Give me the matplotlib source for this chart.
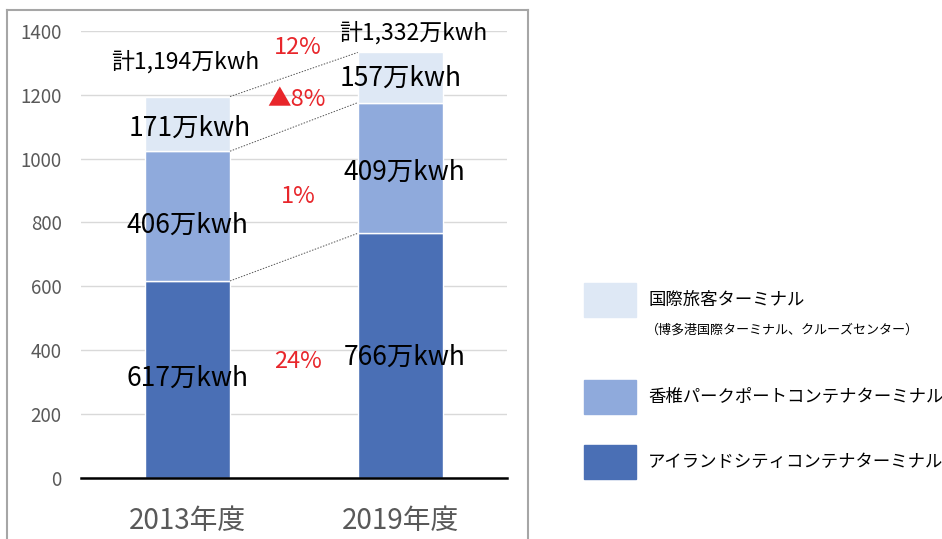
import matplotlib
matplotlib.use('Agg')
import matplotlib.pyplot as plt
from matplotlib.patches import Rectangle
from matplotlib.lines import Line2D

plt.rcParams['font.family'] = ['Noto Sans CJK JP', 'DejaVu Sans']

years = ['2013年度', '2019年度']
island = [617, 766]
kashii = [406, 409]
intl = [171, 157]
totals = [1194, 1332]
changes = ['24%', '1%', '▲8%', '12%']
legend_names = ['国際旅客ターミナル', '香椎パークポートコンテナターミナル', 'アイランドシティコンテナターミナル']
legend_note = '（博多港国際ターミナル、クルーズセンター）'

c_dark = '#4A6FB5'
c_mid = '#8FAADC'
c_light = '#DEE8F5'

fig = plt.figure(figsize=(9.42, 5.39), dpi=100)
ax = fig.add_axes([0.086, 0.113, 0.452, 0.830])

x = [0, 1]
w = 0.4
ax.bar(x, island, w, color=c_dark, edgecolor='white', linewidth=1, zorder=3)
ax.bar(x, kashii, w, bottom=island, color=c_mid, edgecolor='white', linewidth=1, zorder=3)
bot2 = [a + b for a, b in zip(island, kashii)]
ax.bar(x, intl, w, bottom=bot2, color=c_light, edgecolor='white', linewidth=1, zorder=3)

# dotted connectors between segment tops
for t in [island, bot2, totals]:
    ax.plot([w / 2, 1 - w / 2], [t[0], t[1]], color='#555555', lw=0.7,
            ls=(0, (1.5, 1.5)), zorder=4)

# segment labels
fs = 19
ax.text(0.0, 313, f'{island[0]}万kwh', ha='center', va='center', fontsize=fs, zorder=5)
ax.text(1.02, 379, f'{island[1]}万kwh', ha='center', va='center', fontsize=fs, zorder=5)
ax.text(0.0, 792, f'{kashii[0]}万kwh', ha='center', va='center', fontsize=fs, zorder=5)
ax.text(1.02, 958, f'{kashii[1]}万kwh', ha='center', va='center', fontsize=fs, zorder=5)
ax.text(0.01, 1096, f'{intl[0]}万kwh', ha='center', va='center', fontsize=fs, zorder=5)
ax.text(1.0, 1250, f'{intl[1]}万kwh', ha='center', va='center', fontsize=fs, zorder=5)
ax.text(-0.01, 1303, f'計{totals[0]:,}万kwh', ha='center', va='center', fontsize=16.5, zorder=5)
ax.text(1.06, 1394, f'計{totals[1]:,}万kwh', ha='center', va='center', fontsize=16.5, zorder=5)

# change rates
red = '#E8262B'
ax.text(0.52, 366, changes[0], ha='center', va='center', fontsize=17, color=red)
ax.text(0.52, 880, changes[1], ha='center', va='center', fontsize=17, color=red)
ax.text(0.51, 1184, changes[2], ha='center', va='center', fontsize=17, color=red)
ax.text(0.52, 1347, changes[3], ha='center', va='center', fontsize=17, color=red)

ax.set_xlim(-0.5, 1.5)
ax.set_ylim(0, 1400)
ax.set_yticks(range(0, 1401, 200))
ax.set_xticks(x)
ax.set_xticklabels(years, fontsize=20, color='#595959')
ax.tick_params(axis='y', labelsize=13.5, labelcolor='#595959', length=0, pad=14)
ax.tick_params(axis='x', length=0, pad=20)
ax.grid(axis='y', color='#D9D9D9', lw=1, zorder=0)
for s in ['top', 'right', 'left']:
    ax.spines[s].set_visible(False)
ax.spines['bottom'].set_color('black')
ax.spines['bottom'].set_linewidth(1.8)
ax.spines['bottom'].set_zorder(6)

# chart frame
W, H = 942, 539
def fx(px):
    return px / W
def fy(py):
    return 1 - py / H
frame = dict(color='#A6A6A6', lw=1.5, transform=fig.transFigure)
fig.add_artist(Line2D([fx(7), fx(7)], [fy(10), 0], **frame))
fig.add_artist(Line2D([fx(7), fx(528)], [fy(10), fy(10)], **frame))
fig.add_artist(Line2D([fx(528), fx(528)], [fy(10), 0], **frame))

# legend
colors = [c_light, c_mid, c_dark]
ys = [300, 397, 462]
for name, col, yc in zip(legend_names, colors, ys):
    fig.add_artist(Rectangle((fx(584), fy(yc + 17)), fx(636) - fx(584), 34 / H,
                             color=col, transform=fig.transFigure))
    fig.text(fx(648), fy(yc), name, ha='left', va='center', fontsize=12.5)
fig.text(fx(646), fy(330), legend_note, ha='left', va='center', fontsize=9.4)

fig.savefig('out.png', dpi=100)
